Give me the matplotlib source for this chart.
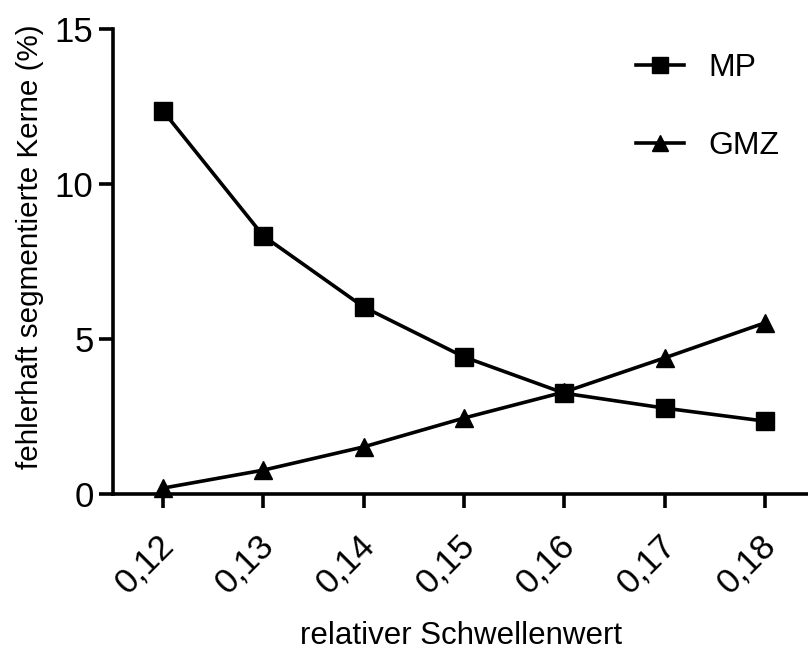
import matplotlib
matplotlib.use("Agg")
import matplotlib.pyplot as plt
import matplotlib.transforms as mtransforms

plt.rcParams['font.family'] = ['Liberation Sans', 'DejaVu Sans']

schwelle = [0.12, 0.13, 0.14, 0.15, 0.16, 0.17, 0.18]
schwelle_labels = ["0,12", "0,13", "0,14", "0,15", "0,16", "0,17", "0,18"]
mp = [12.35, 8.32, 6.03, 4.42, 3.25, 2.77, 2.35]
gmz = [0.19, 0.77, 1.52, 2.45, 3.29, 4.39, 5.52]

fig = plt.figure(figsize=(8.08, 6.51), dpi=100)
ax = fig.add_axes([0.1399, 0.2412, 0.8601, 0.7143])

ax.plot(schwelle, mp, "-", color="k", lw=2.6, marker="s", ms=13, label="MP", clip_on=False)
ax.plot(schwelle, gmz, "-", color="k", lw=2.6, marker="^", ms=13, label="GMZ", clip_on=False)

ax.set_xlim(0.115, 0.1843)
ax.set_ylim(0, 15)
ax.set_yticks([0, 5, 10, 15])
ax.set_xticks(schwelle)
ax.set_xticklabels(schwelle_labels, rotation=45, ha="right", va="top", rotation_mode="anchor")

for s in ["top", "right"]:
    ax.spines[s].set_visible(False)
for s in ["left", "bottom"]:
    ax.spines[s].set_linewidth(2.6)
ax.tick_params(width=2.6, length=10, labelsize=25, pad=4)

# shift rotated labels (after tick_params, which resets transforms)
offset = mtransforms.ScaledTranslation(-0.06, -0.15, fig.dpi_scale_trans)
for lab in ax.get_xticklabels():
    lab.set_transform(lab.get_transform() + offset)

fig.text(0.5705, 1 - 644 / 651, "relativer Schwellenwert", fontsize=22.5,
         ha="center", va="baseline")
ax.set_ylabel("fehlerhaft segmentierte Kerne (%)", fontsize=21.3)
ax.yaxis.set_label_coords(-0.1, 0.531)

ax.legend(loc="upper right", bbox_to_anchor=(1.0, 1.01), frameon=False, fontsize=23,
          handlelength=1.5, labelspacing=1.5, handletextpad=0.75, markerscale=0.9)

fig.savefig("out.png", dpi=100)
